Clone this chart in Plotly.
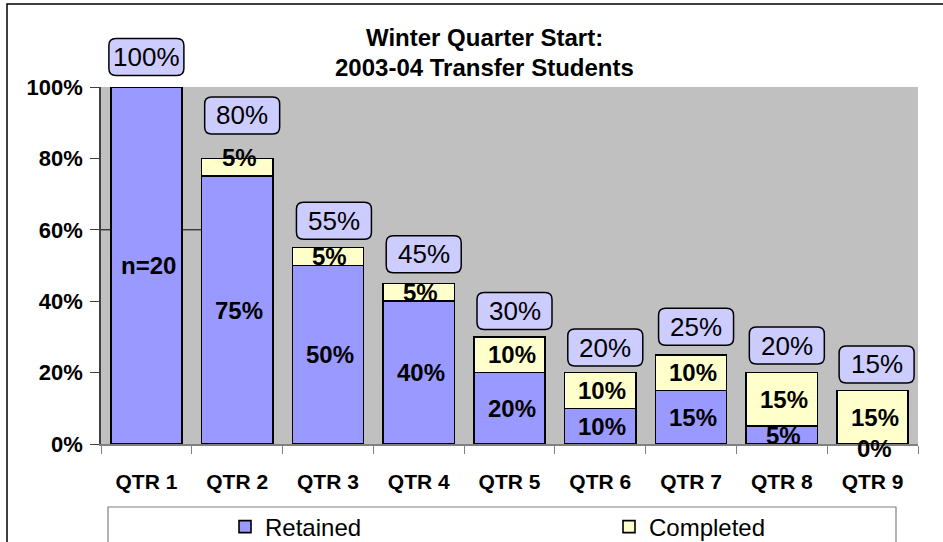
import plotly.graph_objects as go

# ---------------- data ----------------
categories = ["QTR 1", "QTR 2", "QTR 3", "QTR 4", "QTR 5", "QTR 6", "QTR 7", "QTR 8", "QTR 9"]
retained = [100, 75, 50, 40, 20, 10, 15, 5, 0]
completed = [0, 5, 5, 5, 10, 10, 10, 15, 15]
retained_labels = ["n=20", "75%", "50%", "40%", "20%", "10%", "15%", "5%", "0%"]
completed_labels = ["", "5%", "5%", "5%", "10%", "10%", "10%", "15%", "15%"]
y_tickvals = [0, 20, 40, 60, 80, 100]
y_ticktext = ["0%", "20%", "40%", "60%", "80%", "100%"]
Y_MAX = 100
title_lines = ["Winter Quarter Start:", "2003-04 Transfer Students"]

# ---------------- styling / layout constants ----------------
W, H = 943, 542
ML, MR, MT, MB = 101, 25, 87, 98
PW = W - ML - MR
PH = H - MT - MB
FONT = "Liberation Sans, Arial, sans-serif"
RET_COLOR = "#9999FF"
COM_COLOR = "#FFFFCC"
BOX_COLOR = "#CCCCFF"
BAR_WIDTH = 0.785

# label box offsets above bar tops (pixels) and small horizontal nudges
box_up_px = [30, 43, 27, 29, 26, 25, 28, 27, 26]
box_dx_px = [0, 5, 6, 5, 5, 5, 5, 5, 4]
BOX_W_PX, BOX_H_PX, BOX_R_PX = 75, 37, 7


def px_x(px):
    return (px - ML) / PW


def px_y(py):
    return (H - MB - py) / PH


fig = go.Figure()
fig.add_trace(go.Bar(
    x=categories, y=retained, name="Retained", legend="legend",
    marker=dict(color=RET_COLOR, line=dict(color="black", width=1.6)),
    width=BAR_WIDTH,
))
fig.add_trace(go.Bar(
    x=categories, y=completed, name="Completed", legend="legend2",
    marker=dict(color=COM_COLOR, line=dict(color="black", width=1.6)),
    width=BAR_WIDTH,
))

annotations = []
shapes = []

# segment labels
for i in range(len(categories)):
    dy = -4 if retained[i] == 0 else 0
    annotations.append(dict(
        x=i, y=retained[i] / 2, xref="x", yref="y", text=retained_labels[i],
        showarrow=False, yshift=dy, xshift=2,
        font=dict(family=FONT, size=24, color="black", weight="bold"),
    ))
    if completed_labels[i]:
        dy = 10 if i == 1 else 0
        annotations.append(dict(
            x=i, y=retained[i] + completed[i] / 2, xref="x", yref="y",
            text=completed_labels[i], showarrow=False, yshift=dy, xshift=2,
            font=dict(family=FONT, size=24, color="black", weight="bold"),
        ))

# total labels in rounded boxes (box drawn in pixel units around the bar-top anchor)
hw, hh, r = BOX_W_PX / 2, BOX_H_PX / 2, BOX_R_PX
for i in range(len(categories)):
    total = retained[i] + completed[i]
    cx, cy = box_dx_px[i], box_up_px[i]
    x0, x1 = cx - hw, cx + hw
    y0, y1 = cy - hh, cy + hh
    path = (
        f"M{x0 + r},{y0} L{x1 - r},{y0} Q{x1},{y0} {x1},{y0 + r} "
        f"L{x1},{y1 - r} Q{x1},{y1} {x1 - r},{y1} "
        f"L{x0 + r},{y1} Q{x0},{y1} {x0},{y1 - r} "
        f"L{x0},{y0 + r} Q{x0},{y0} {x0 + r},{y0} Z"
    )
    shapes.append(dict(type="path", path=path, xref="x", yref="paper",
                       xsizemode="pixel", ysizemode="pixel",
                       xanchor=i, yanchor=total / Y_MAX,
                       fillcolor=BOX_COLOR, line=dict(color="black", width=1.5),
                       layer="above"))
    annotations.append(dict(
        x=i, y=total, xref="x", yref="y", text=f"{total}%", showarrow=False,
        xshift=cx, yshift=cy,
        font=dict(family=FONT, size=26, color="black"),
    ))

# title
for line, py in zip(title_lines, [37, 68]):
    annotations.append(dict(
        x=px_x(484), y=px_y(py), xref="paper", yref="paper", text=line,
        showarrow=False, xanchor="center", yanchor="middle",
        font=dict(family=FONT, size=24, color="black", weight="bold"),
    ))

# stray line at 60% between axis and QTR 2 (as in original)
shapes.append(dict(type="line", xref="x", yref="y", x0=-0.5, x1=1 - BAR_WIDTH / 2,
                   y0=60, y1=60, line=dict(color="black", width=1), layer="below"))

# legend frame
shapes.append(dict(type="rect", xref="paper", yref="paper",
                   x0=px_x(108), x1=px_x(896), y0=px_y(507), y1=px_y(580),
                   line=dict(color="#808080", width=1.2), fillcolor="rgba(0,0,0,0)"))
# outer chart frame
shapes.append(dict(type="rect", xref="paper", yref="paper",
                   x0=px_x(7), x1=px_x(990), y0=px_y(4), y1=px_y(600),
                   line=dict(color="black", width=1.5), fillcolor="rgba(0,0,0,0)"))

legend_common = dict(
    orientation="h", yanchor="middle", y=px_y(527), xanchor="left",
    font=dict(family=FONT, size=24, color="black"),
    bgcolor="rgba(0,0,0,0)", borderwidth=0,
)

fig.update_layout(
    width=W, height=H, autosize=False,
    margin=dict(l=ML, r=MR, t=MT, b=MB, pad=0, autoexpand=False),
    barmode="stack",
    paper_bgcolor="white",
    plot_bgcolor="#C0C0C0",
    font=dict(family=FONT, color="black"),
    showlegend=True,
    legend=dict(x=px_x(225), **legend_common),
    legend2=dict(x=px_x(609), **legend_common),
    annotations=annotations,
    shapes=shapes,
    xaxis=dict(
        type="category", tickson="boundaries", ticks="outside", ticklen=8,
        tickcolor="#808080", showline=True, linecolor="#808080", linewidth=1.5,
        showgrid=False, zeroline=False, ticklabelstandoff=18,
        tickfont=dict(family=FONT, size=21, color="black", weight="bold"),
        range=[-0.5, len(categories) - 0.5],
    ),
    yaxis=dict(
        range=[0, Y_MAX], tickvals=y_tickvals, ticktext=y_ticktext,
        ticks="outside", ticklen=9, tickcolor="#404040",
        showline=True, linecolor="#404040", linewidth=1.5,
        showgrid=False, zeroline=False, ticklabelstandoff=3,
        tickfont=dict(family=FONT, size=22, color="black", weight="bold"),
    ),
)

fig.write_html(
    "out.html",
    config={"displayModeBar": False},
    post_script="document.documentElement.style.margin='0';"
                "document.body.style.margin='0';"
                "document.body.style.overflow='hidden';",
)
